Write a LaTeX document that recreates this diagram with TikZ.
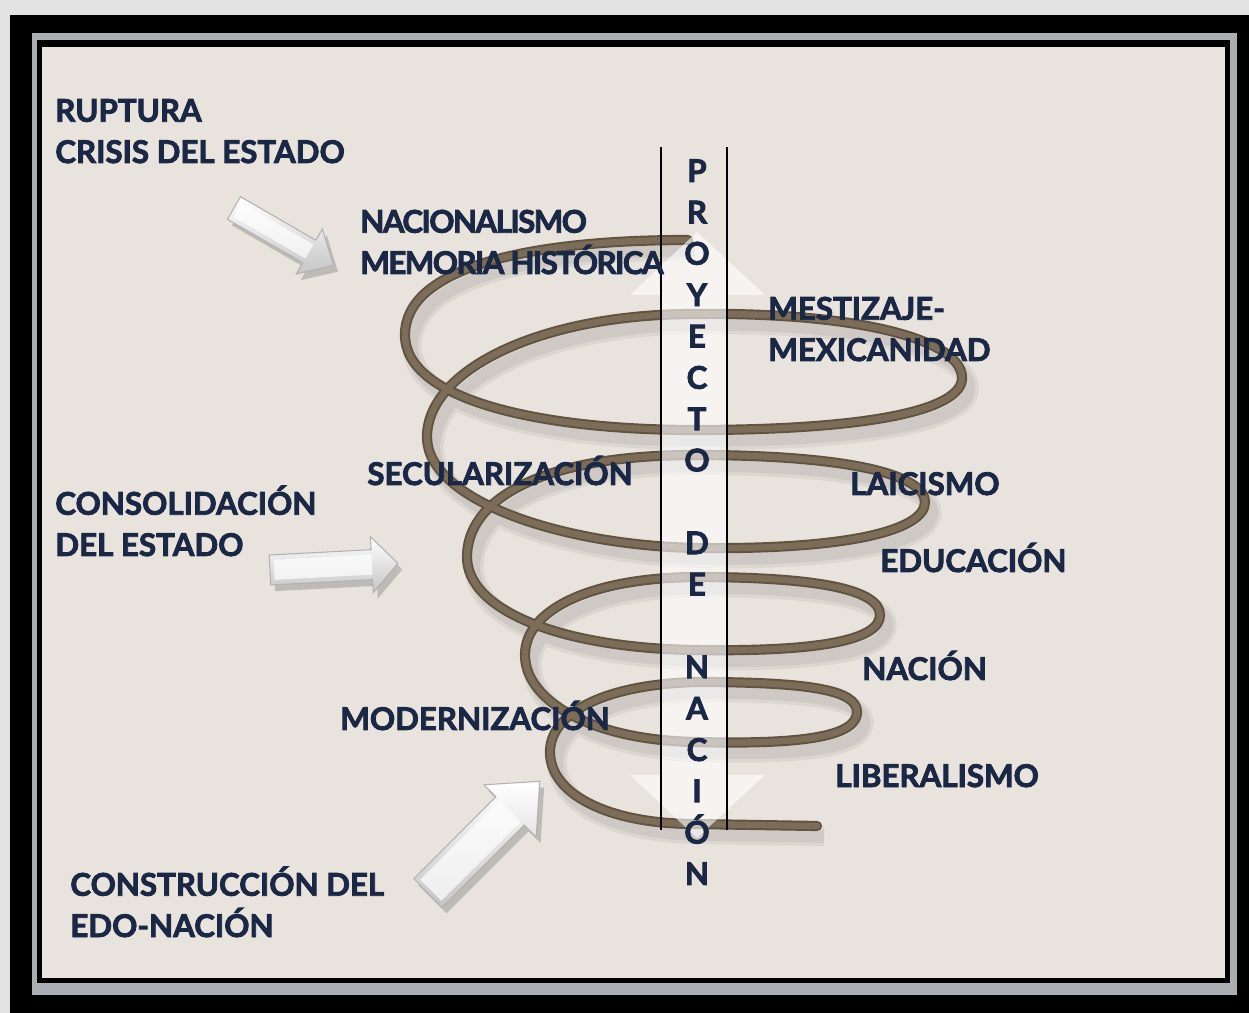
\documentclass[tikz,border=0pt]{standalone}
\usepackage{fontspec}
\setmainfont{Lato}[BoldFeatures={FakeBold=2.6}]
\usetikzlibrary{positioning}
\definecolor{fondo}{HTML}{E9E3DD}
\definecolor{marino}{HTML}{1B2845}
\definecolor{cafe}{HTML}{7D6D58}
\definecolor{cafeosc}{HTML}{5F5341}
\definecolor{marco}{HTML}{ABAFB3}

\newcommand\flecha[6]{%
\begin{scope}[xshift=2.5pt,yshift=-3.5pt,shift={#1},rotate=#2]
\fill[black,opacity=.18](0,-#4)--({#3-#6},-#4)--({#3-#6},-#5)--(#3,0)--({#3-#6},#5)--({#3-#6},#4)--(0,#4)--cycle;
\end{scope}
\begin{scope}[shift={#1},rotate=#2]
\shade[top color=white,bottom color=gray!45,draw=gray!60,line width=.6pt](0,-#4)--({#3-#6},-#4)--({#3-#6},-#5)--(#3,0)--({#3-#6},#5)--({#3-#6},#4)--(0,#4)--cycle;
\fill[white,opacity=.7](4,-#4+5)--({#3-#6},-#4+5)--({#3-#6},#4-5)--(4,#4-5)--cycle;
\end{scope}}

\def\espiral{(688,240) .. controls (520,240) and (405,270) .. (405,335)
 .. controls (405,400) and (540,430) .. (695,430)
 .. controls (870,430) and (962,410) .. (962,378)
 .. controls (962,340) and (860,312) .. (695,314)
 .. controls (540,314) and (427,370) .. (427,437)
 .. controls (427,500) and (560,545) .. (695,548)
 .. controls (850,550) and (925,530) .. (925,502)
 .. controls (925,475) and (850,455) .. (695,455)
 .. controls (540,455) and (467,500) .. (467,557)
 .. controls (467,610) and (560,648) .. (695,650)
 .. controls (820,652) and (880,640) .. (880,615)
 .. controls (880,590) and (820,577) .. (695,577)
 .. controls (590,578) and (525,610) .. (525,655)
 .. controls (525,700) and (590,740) .. (695,742)
 .. controls (810,745) and (857,735) .. (857,712)
 .. controls (857,690) and (810,682) .. (695,682)
 .. controls (600,685) and (550,715) .. (550,752)
 .. controls (550,795) and (610,824) .. (695,824)
 -- (817,826)}

\begin{document}
\begin{tikzpicture}[x=0.02cm,y=-0.02cm,
  etiq/.style={inner sep=0pt,anchor=base west,align=left,text=marino,
    font=\fontsize{17.8}{23.5}\selectfont\bfseries},
  letra/.style={inner sep=0pt,anchor=base,text=marino,
    font=\fontsize{17.8}{21}\selectfont\bfseries},
  resorte/.style={draw=cafeosc,line width=5.8pt,line cap=round}]
\useasboundingbox (0,0) rectangle (1249,1013);
% marco
\fill[gray!22] (0,0) rectangle (1249,1013);
\fill[black] (10,15) rectangle (1249,1013);
\fill[marco] (32,33) rectangle (1237,995);
\fill[black] (37,40) rectangle (1230,983);
\fill[fondo] (42,47) rectangle (1225,978);

% flechas
\flecha{(234,208)}{-30}{115}{13}{26}{28}
\flecha{(270,570)}{3}{128}{15}{28}{26}
\flecha{(428,893)}{45}{158}{20}{37}{42}

% resorte
\begin{scope}[xshift=4pt,yshift=-6pt]
\draw[gray,opacity=.12,line width=11pt] \espiral;
\draw[gray,opacity=.15,line width=7pt] \espiral;
\end{scope}
\draw[resorte] \espiral;
\draw[cafe,line width=3.6pt,line cap=round] \espiral;

% flecha doble blanca
\fill[white,opacity=.6] (697,232)--(765,295)--(727,295)--(727,775)--(765,775)--(697,838)
  --(630,775)--(661,775)--(661,295)--(630,295)--cycle;
\draw[line width=1.7pt] (661,147)--(661,830); \draw[line width=1.7pt] (727,147)--(727,830);

\foreach \l/\i in {P/0,R/1,O/2,Y/3,E/4,C/5,T/6,O/7,D/9,E/10,N/12,A/13,C/14,I/15,Ó/16,N/17}
  \node[letra] (pn\i) at (697,182+41.35*\i) {\l};

\node[etiq] (ruptura) at (55,163) {RUPTURA\\CRISIS DEL ESTADO};
\node[etiq] (nacionalismo) at (360,274) {\addfontfeatures{LetterSpace=-5}NACIONALISMO\\\addfontfeatures{LetterSpace=-5}MEMORIA HISTÓRICA};
\node[etiq] (mestizaje) at (768,361) {MESTIZAJE-\\MEXICANIDAD};
\node[etiq] (secular) at (367,485) {SECULARIZACIÓN};
\node[etiq] (laicismo) at (850,495) {LAICISMO};
\node[etiq] (consolidacion) at (55,556) {CONSOLIDACIÓN\\DEL ESTADO};
\node[etiq] (educacion) at (880,572) {EDUCACIÓN};
\node[etiq] (nacion) at (862,680) {NACIÓN};
\node[etiq] (modernizacion) at (340,730) {MODERNIZACIÓN};
\node[etiq] (liberalismo) at (835,787) {LIBERALISMO};
\node[etiq] (construccion) at (70,937) {CONSTRUCCIÓN DEL\\EDO-NACIÓN};
\end{tikzpicture}
\end{document}
